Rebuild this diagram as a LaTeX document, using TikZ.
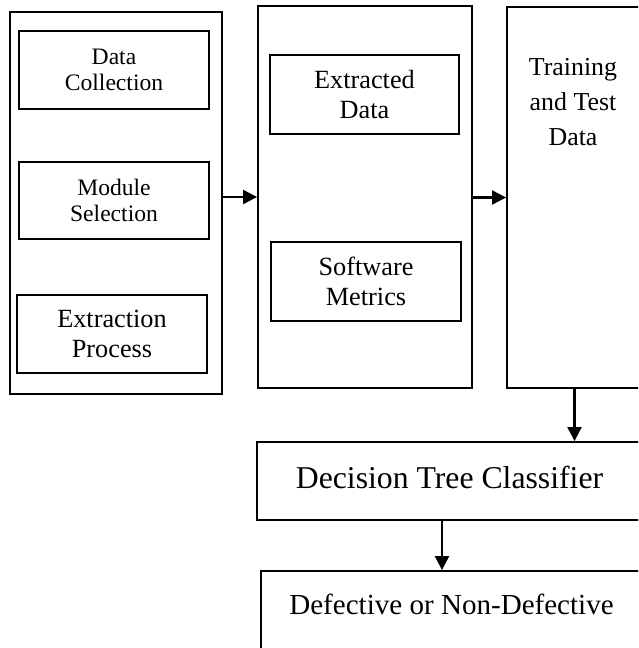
\documentclass[tikz,border=0pt]{standalone}
\usepackage{fontspec}
\setmainfont{Liberation Serif}
\usetikzlibrary{arrows.meta}

\tikzset{
  frame/.style={draw, line width=1.4pt, rectangle, inner sep=0pt, anchor=center},
  stage/.style={frame, align=center},
  smalltxt/.style={font=\fontsize{17.7pt}{19.5pt}\selectfont},
  midtxt/.style={font=\fontsize{19.7pt}{22.5pt}\selectfont},
  flow/.style={line width=1.6pt, -{Triangle[length=10.5pt,width=10.5pt]}}
}

\begin{document}
\begin{tikzpicture}[x=0.75pt,y=-0.75pt]
\useasboundingbox (0,0) rectangle (638,648);
\clip (0,0) rectangle (638,648);

% first column: data preparation
\node[frame, minimum width=159pt, minimum height=286.5pt] (box1) at (116,203) {};
\node[stage, smalltxt, minimum width=142.5pt, minimum height=58.5pt] (dc) at (114,70) {Data\\Collection};
\node[stage, smalltxt, minimum width=142.5pt, minimum height=57.75pt] (ms) at (114,200.5) {Module\\Selection};
\node[stage, midtxt, minimum width=142.5pt, minimum height=58.5pt] (ep) at (112,334) {Extraction\\Process};

% second column: extracted data and metrics
\node[frame, minimum width=160.5pt, minimum height=286.5pt] (box2) at (365,197) {};
\node[stage, midtxt, minimum width=141.75pt, minimum height=59.25pt] (ed) at (364.5,94.5) {Extracted\\Data};
\node[stage, midtxt, minimum width=142.5pt, minimum height=59.25pt] (sm) at (366,281.5) {Software\\Metrics};

% third column: training and test data
\node[frame, minimum width=101.25pt, minimum height=285.75pt] (box3) at (574.5,197.5) {};
\node[align=center, font=\fontsize{19.4pt}{26.25pt}\selectfont, inner sep=0pt] (trn) at (573,102) {Training\\and Test\\Data};

% classifier and result
\node[frame, minimum width=288.75pt, minimum height=58.5pt, font=\fontsize{23.8pt}{28pt}\selectfont] (dec) at (449.5,481) {\raisebox{5pt}{Decision Tree Classifier}};
\node[frame, minimum width=285.75pt, minimum height=96.75pt] (def) at (451.5,635.5) {};
\node[font=\fontsize{21.8pt}{26pt}\selectfont, inner sep=0pt] (deftxt) at (451.5,604) {Defective or Non-Defective};

% connectors
\coordinate (drop) at (442,0);
\draw[flow] (box1.east |- box2.west) -- (box2.west);
\draw[flow] (box2.east |- box3.west) -- (box3.west);
\draw[flow] (box3.south) -- (box3.south |- dec.north);
\draw[flow] (dec.south -| drop) -- (def.north -| drop);
\end{tikzpicture}
\end{document}
